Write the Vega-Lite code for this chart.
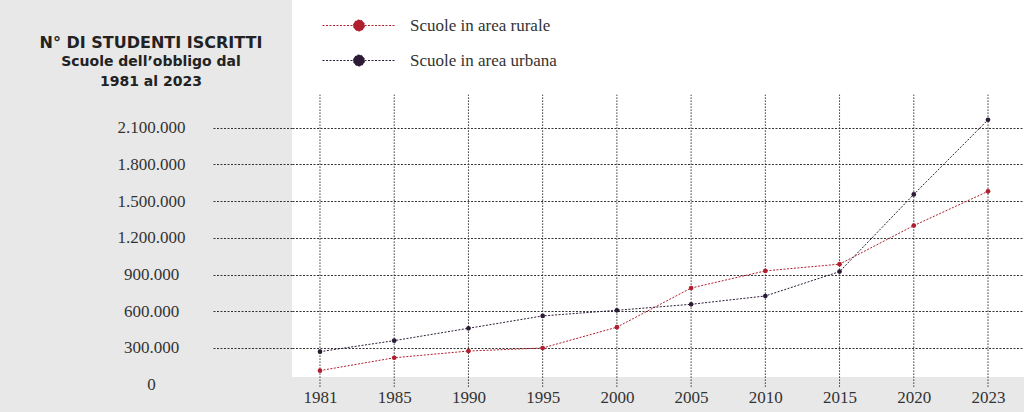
{
  "$schema": "https://vega.github.io/schema/vega-lite/v6.json",
  "width": 732,
  "height": 377,
  "autosize": {"type": "none"},
  "padding": {"left": 292, "top": 0, "right": 0, "bottom": 35},
  "background": "#e8e8e8",
  "view": {"fill": "white", "stroke": null},
  "title": {
    "text": "N° DI STUDENTI ISCRITTI",
    "subtitle": ["Scuole dell’obbligo dal", "1981 al 2023"],
    "orient": "top",
    "anchor": "start",
    "frame": "group",
    "align": "center",
    "dx": -141,
    "dy": 89,
    "offset": 0,
    "font": "DejaVu Sans",
    "fontSize": 16,
    "fontWeight": "bold",
    "color": "#222",
    "subtitleFont": "DejaVu Sans",
    "subtitleFontSize": 14,
    "subtitleFontWeight": "bold",
    "subtitleColor": "#222",
    "subtitlePadding": 4,
    "subtitleLineHeight": 20
  },
  "datasets": {
    "years": [
      {"anno": 1981}, {"anno": 1985}, {"anno": 1990}, {"anno": 1995}, {"anno": 2000},
      {"anno": 2005}, {"anno": 2010}, {"anno": 2015}, {"anno": 2020}, {"anno": 2023}
    ],
    "series": [
      {"anno": 1981, "serie": "Scuole in area rurale", "valore": 115000},
      {"anno": 1985, "serie": "Scuole in area rurale", "valore": 220000},
      {"anno": 1990, "serie": "Scuole in area rurale", "valore": 275000},
      {"anno": 1995, "serie": "Scuole in area rurale", "valore": 300000},
      {"anno": 2000, "serie": "Scuole in area rurale", "valore": 470000},
      {"anno": 2005, "serie": "Scuole in area rurale", "valore": 790000},
      {"anno": 2010, "serie": "Scuole in area rurale", "valore": 930000},
      {"anno": 2015, "serie": "Scuole in area rurale", "valore": 985000},
      {"anno": 2020, "serie": "Scuole in area rurale", "valore": 1300000},
      {"anno": 2023, "serie": "Scuole in area rurale", "valore": 1580000},
      {"anno": 1981, "serie": "Scuole in area urbana", "valore": 270000},
      {"anno": 1985, "serie": "Scuole in area urbana", "valore": 360000},
      {"anno": 1990, "serie": "Scuole in area urbana", "valore": 461000},
      {"anno": 1995, "serie": "Scuole in area urbana", "valore": 562000},
      {"anno": 2000, "serie": "Scuole in area urbana", "valore": 608000},
      {"anno": 2005, "serie": "Scuole in area urbana", "valore": 657000},
      {"anno": 2010, "serie": "Scuole in area urbana", "valore": 725000},
      {"anno": 2015, "serie": "Scuole in area urbana", "valore": 924000},
      {"anno": 2020, "serie": "Scuole in area urbana", "valore": 1555000},
      {"anno": 2023, "serie": "Scuole in area urbana", "valore": 2165000}
    ]
  },
  "layer": [
    {
      "data": {"name": "years"},
      "mark": {"type": "rule", "strokeDash": [1.5, 1.5], "color": "#333", "strokeWidth": 1},
      "encoding": {
        "x": {"field": "anno", "type": "ordinal", "title": null,
              "scale": {"type": "point", "padding": 0.431, "align": 0.4375}},
        "y": {"datum": -18000, "type": "quantitative",
              "scale": {"domain": [0, 2100000], "range": [384.7, 127.7], "nice": false},
              "axis": {"values": [0, 300000, 600000, 900000, 1200000, 1500000, 1800000, 2100000]}},
        "y2": {"datum": 2370000}
      }
    },
    {
      "data": {"name": "series"},
      "mark": {"type": "line", "strokeDash": [2, 1.5], "strokeWidth": 1},
      "encoding": {
        "x": {"field": "anno", "type": "ordinal", "title": null,
              "scale": {"type": "point", "padding": 0.431, "align": 0.4375}},
        "y": {"field": "valore", "type": "quantitative", "title": null,
              "axis": {"values": [0, 300000, 600000, 900000, 1200000, 1500000, 1800000, 2100000]}},
        "color": {
          "field": "serie", "type": "nominal",
          "scale": {"domain": ["Scuole in area rurale", "Scuole in area urbana"], "range": ["#b01f2e", "#2b1b36"]},
          "legend": {
            "orient": "none", "legendX": 58.5, "legendY": 17, "title": null,
            "symbolType": "M-7.3,0L7.3,0M-1.1,0A1.1,1.1 0 1,1 1.1,0A1.1,1.1 0 1,1 -1.1,0Z",
            "symbolSize": 100, "symbolStrokeWidth": 1, "symbolDash": [2, 1.5],
            "labelFont": "Liberation Serif", "labelFontSize": 17, "labelColor": "#333",
            "labelOffset": 42.5, "rowPadding": 17, "padding": 0,
            "encode": {"symbols": {"update": {
              "fill": {"scale": "color", "field": "value"},
              "stroke": {"scale": "color", "field": "value"},
              "opacity": {"value": 1}
            }}}
          }
        }
      }
    },
    {
      "data": {"name": "series"},
      "mark": {"type": "point", "filled": true, "size": 22, "opacity": 1},
      "encoding": {
        "x": {"field": "anno", "type": "ordinal", "title": null,
              "scale": {"type": "point", "padding": 0.431, "align": 0.4375}},
        "y": {"field": "valore", "type": "quantitative", "title": null},
        "color": {"field": "serie", "type": "nominal"}
      }
    }
  ],
  "config": {
    "axisX": {
      "domain": false, "ticks": false, "grid": false, "labelAngle": 0,
      "labelFont": "Liberation Serif", "labelFontSize": 17, "labelColor": "#333", "labelPadding": 12
    },
    "axisY": {
      "domain": false, "grid": true, "gridDash": [2, 1.5], "gridColor": "#333",
      "tickSize": 80, "tickDash": [2, 1.5], "tickColor": "#333",
      "labelAlign": "center", "labelPadding": 61,
      "labelFont": "Liberation Serif", "labelFontSize": 17, "labelColor": "#333",
      "labelExpr": "replace(format(datum.value, ','), /,/g, '.')",
      "gridOpacity": {"condition": {"test": "datum.value === 0", "value": 0}, "value": 1},
      "tickOpacity": {"condition": {"test": "datum.value === 0", "value": 0}, "value": 1}
    }
  }
}
